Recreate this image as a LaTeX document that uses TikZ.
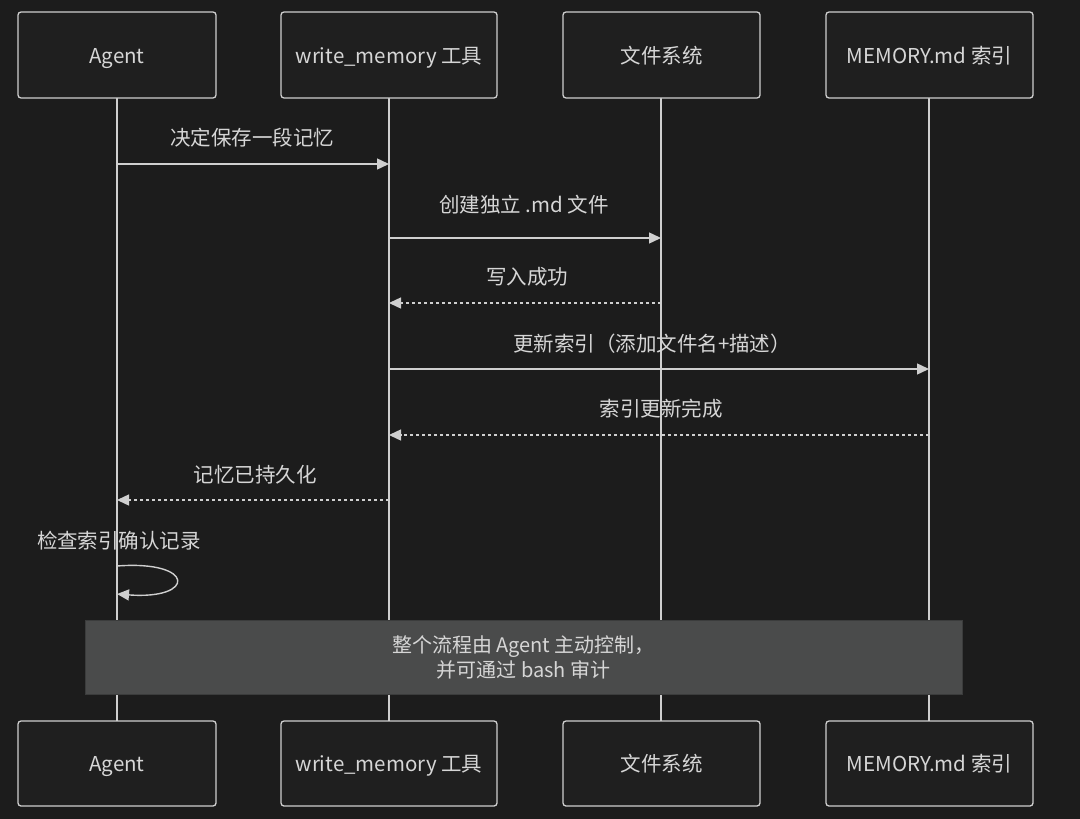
\documentclass[tikz,border=0pt]{standalone}
\usepackage{fontspec}
\setmainfont{Noto Sans CJK SC}
\usetikzlibrary{arrows.meta}
\definecolor{bg}{HTML}{1C1C1C}
\definecolor{boxfill}{HTML}{1F1F1F}
\definecolor{linec}{HTML}{CFCFCF}
\definecolor{txt}{HTML}{D6D6D6}
\definecolor{notefill}{HTML}{4A4B4B}
\begin{document}
\begin{tikzpicture}[x=1pt,y=-1pt,
  font=\fontsize{20.5}{25}\selectfont,
  actor/.style={draw=linec,line width=1.3pt,fill=boxfill,rounded corners=3pt,minimum height=86pt,text=txt,inner sep=0pt,text height=18pt,text depth=2pt},
  life/.style={draw=linec,line width=1.6pt},
  msg/.style={draw=linec,line width=1.4pt,-{Triangle[length=12pt,width=11pt]}},
  reply/.style={msg,dash pattern=on 3pt off 3pt},
  lbl/.style={text=txt,inner sep=0pt,text height=18pt,text depth=2pt}]
\fill[bg] (0,0) rectangle (1080,819);
\useasboundingbox (0,0) rectangle (1080,819);
% lifelines
\coordinate (a1) at (117,98); \coordinate (a2) at (117,721);
\coordinate (w1) at (389,98); \coordinate (w2) at (389,721);
\coordinate (f1) at (661,98); \coordinate (f2) at (661,721);
\coordinate (m1) at (929,98); \coordinate (m2) at (929,721);
\draw[life] (a1) -- (a2);
\draw[life] (w1) -- (w2);
\draw[life] (f1) -- (f2);
\draw[life] (m1) -- (m2);
% actors
\node[actor,minimum width=198pt] (at) at (117,55) {Agent};
\node[actor,minimum width=216pt] (wt) at (389,55) {write\_memory 工具};
\node[actor,minimum width=197pt] (ft) at (661.5,55) {文件系统};
\node[actor,minimum width=207pt] (mt) at (929.5,55) {MEMORY.md 索引};
\node[actor,minimum width=198pt,minimum height=85pt] (ab) at (117,763.5) {Agent};
\node[actor,minimum width=216pt,minimum height=85pt] (wb) at (389,763.5) {write\_memory 工具};
\node[actor,minimum width=197pt,minimum height=85pt] (fb) at (661.5,763.5) {文件系统};
\node[actor,minimum width=207pt,minimum height=85pt] (mb) at (929.5,763.5) {MEMORY.md 索引};
% message points
\coordinate (p1a) at (117,164); \coordinate (p1b) at (389,164);
\coordinate (p2a) at (389,238); \coordinate (p2b) at (661,238);
\coordinate (p3a) at (661,303); \coordinate (p3b) at (389,303);
\coordinate (p4a) at (389,369); \coordinate (p4b) at (929,369);
\coordinate (p5a) at (929,435); \coordinate (p5b) at (389,435);
\coordinate (p6a) at (389,500); \coordinate (p6b) at (117,500);
\coordinate (p7a) at (117,566); \coordinate (p7b) at (117,594);
\draw[msg] (p1a) -- (p1b);
\node[lbl] (l1) at (252,137) {决定保存一段记忆};
\draw[msg] (p2a) -- (p2b);
\node[lbl] (l2) at (524,204) {创建独立 .md 文件};
\draw[reply] (p3a) -- (p3b);
\node[lbl] (l3) at (527,276) {写入成功};
\draw[msg] (p4a) -- (p4b);
\node[lbl] (l4) at (652,343) {更新索引（添加文件名+描述）};
\draw[reply] (p5a) -- (p5b);
\node[lbl] (l5) at (661,408) {索引更新完成};
\draw[reply] (p6a) -- (p6b);
\node[lbl] (l6) at (255,474) {记忆已持久化};
\node[lbl] (l7) at (119,540) {检查索引确认记录};
\draw[msg] (p7a) .. controls (196,560) and (196,600) .. (p7b);
% note
\node[fill=notefill,draw=notefill!80!black,line width=0.8pt,minimum width=877pt,minimum height=74pt,text=txt,align=center,inner sep=0pt,font=\fontsize{20}{25}\selectfont] (note) at (523.5,657) {整个流程由 Agent 主动控制，\\并可通过 bash 审计};
\end{tikzpicture}
\end{document}
